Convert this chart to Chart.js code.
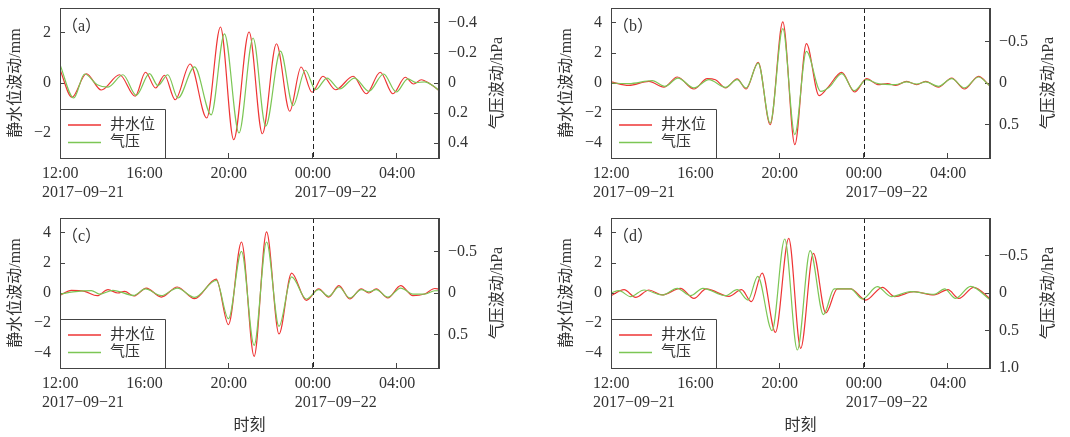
<!DOCTYPE html>
<html><head><meta charset="utf-8">
<script src="https://cdn.jsdelivr.net/npm/chart.js@4.4.1/dist/chart.umd.min.js"></script>
<style>
html,body{margin:0;padding:0;background:#fff;}
body{width:1070px;height:437px;position:relative;overflow:hidden;}
canvas{position:absolute;}
</style></head><body>
<canvas id="ca" width="512" height="215" style="left:0;top:0"></canvas>
<canvas id="cb" width="512" height="215" style="left:551px;top:0"></canvas>
<canvas id="cc" width="512" height="227" style="left:0;top:210px"></canvas>
<canvas id="cd" width="512" height="227" style="left:551px;top:210px"></canvas>
<script>
// ---- x axis (hours after 2017-09-21 12:00) ----
const xTickHours = [0, 4, 8, 12, 16];
const xTickLabels = [['12:00','2017−09−21'], ['16:00'], ['20:00'], ['00:00','2017−09−22'], ['04:00']];
const midnightHour = 12;
const seriesNames = ['井水位', '气压'];
const leftTitle = '静水位波动/mm';
const rightTitle = '气压波动/hPa';
const xTitle = '时刻';

// ---- panel (a) ----
const tA_well = [0,0.57,1.25,1.96,2.83,3.57,4.06,4.54,4.96,5.47,6.18,6.97,7.62,8.25,8.98,9.61,10.28,10.91,11.45,11.97,12.49,13.09,13.92,14.55,15.21,15.81,16.4,16.79,17.16,17.55,18];
const vA_well = [0.53,-0.57,0.37,-0.28,0.33,-0.53,0.43,-0.2,0.31,-0.67,0.76,-1.4,2.24,-2.27,2.04,-2.03,1.57,-1.13,0.64,-0.37,0.27,-0.27,0.27,-0.43,0.43,-0.43,0.23,-0.04,0.13,-0.02,-0.3];
const tA_air = [0,0.65,1.17,1.77,2.28,2.99,3.62,4.25,4.65,5.12,5.6,6.39,7.18,7.81,8.5,9.17,9.77,10.47,11.07,11.65,12.14,12.68,13.28,13.99,14.67,15.37,15.97,16.52,16.92,17.31,17.7,18];
const vA_air = [-0.122,0.100,-0.060,0.012,0.027,-0.055,0.082,-0.062,0.017,-0.055,0.100,-0.107,0.212,-0.328,0.333,-0.300,0.288,-0.212,0.150,-0.085,0.045,-0.033,0.040,-0.033,0.055,-0.060,0.060,-0.028,-0.003,-0.007,0.017,0.05];

// ---- panel (b) ----
const tB_well = [0,0.85,1.8,2.51,3.15,3.94,4.57,4.96,5.44,5.99,6.42,6.99,7.56,8.16,8.73,9.28,9.88,10.28,10.96,11.57,12.14,12.68,13.13,13.52,14.04,14.52,14.94,15.55,16.18,16.79,17.45,18];
const vB_well = [0.07,-0.16,0.11,-0.27,0.4,-0.4,0.29,0.22,-0.33,0.27,-0.4,1.38,-2.78,4.07,-4.11,2.62,-0.84,-0.33,0.71,-0.6,0.29,-0.11,-0.04,-0.16,0.11,-0.11,0.11,-0.27,0.33,-0.4,0.44,-0.2];
const tB_air = [0,0.85,1.96,2.56,3.18,3.94,4.65,5.44,5.99,6.42,6.99,7.56,8.16,8.73,9.28,9.96,10.36,10.96,11.55,12.14,12.68,13.52,14.04,14.52,14.94,15.55,16.18,16.79,17.45,18];
const vB_air = [0,0.007,-0.029,0.040,-0.059,0.059,-0.040,0.052,-0.040,0.059,-0.239,0.481,-0.652,0.619,-0.380,0.101,0.052,-0.112,0.092,-0.040,0.007,0.020,-0.013,0.013,-0.013,0.040,-0.052,0.059,-0.072,0.036];

// ---- panel (c) ----
const tC_well = [0,0.54,1.17,1.77,2.28,2.75,3.07,3.51,4.1,4.81,5.57,6.39,7.42,8.0,8.62,9.22,9.81,10.4,11.0,11.7,12.29,12.76,13.25,13.76,14.31,14.67,15.02,15.57,16.18,16.76,17.31,17.8,18];
const vC_well = [-0.16,0.18,0.11,-0.18,0.22,0,0.11,-0.2,0.33,-0.27,0.4,-0.38,0.93,-2.11,3.4,-4.22,4.07,-2.73,1.33,-0.49,0.27,-0.27,0.49,-0.4,0.27,0.0,0.27,-0.33,0.49,-0.18,-0.07,0.3,0.25];
const tC_air = [0,0.62,1.49,1.88,2.51,3.51,4.05,4.81,5.57,6.39,7.42,8.0,8.62,9.22,9.81,10.4,11.0,11.7,12.29,12.76,13.25,13.76,14.31,14.67,15.02,15.57,16.18,16.76,17.31,17.8,18];
const vC_air = [0.013,-0.013,-0.029,0.013,-0.032,0.029,-0.049,0.032,-0.059,0.052,-0.151,0.308,-0.500,0.628,-0.612,0.400,-0.193,0.072,-0.040,0.040,-0.072,0.059,-0.040,-0.013,-0.040,0.049,-0.059,0.013,0.013,-0.027,-0.027];

// ---- panel (d) ----
const tD_well = [0,0.62,1.17,1.8,2.43,3.3,3.94,4.52,5.6,6.2,6.67,7.18,7.81,8.44,9.01,9.61,10.2,10.75,11.38,12.1,12.89,13.47,14.39,15.34,16.0,16.52,17.23,18];
const vD_well = [-0.18,0.22,-0.29,0.2,-0.13,0.31,-0.36,0.27,-0.22,0.22,-0.58,1.33,-2.62,3.64,-3.69,2.64,-1.33,0.27,0.27,-0.47,0.38,-0.24,0.09,-0.13,0.22,-0.36,0.38,-0.38];
const tD_air = [0,0.38,0.93,1.57,2.43,3.15,3.78,4.36,5.44,5.99,6.51,6.97,7.65,8.25,8.85,9.46,10.09,10.6,11.38,11.94,12.65,13.31,14.23,15.34,15.84,16.36,17.08,18];
const vD_air = [0,-0.032,0.048,-0.04,0.026,-0.062,0.036,-0.062,0.036,-0.044,0.094,-0.222,0.502,-0.72,0.76,-0.564,0.288,-0.054,-0.054,0.08,-0.084,0.048,-0.018,0.018,-0.054,0.072,-0.088,0.09];

// ---- axis ticks ----
const wellTicksA = [-2, 0, 2];
const wellLabelsA = ['−2', '0', '2'];
const airTicksA = [-0.4, -0.2, 0, 0.2, 0.4];
const airLabelsA = ['−0.4', '−0.2', '0', '0.2', '0.4'];
const wellTicksBCD = [-4, -2, 0, 2, 4];
const wellLabelsBCD = ['−4', '−2', '0', '2', '4'];
const airTicksBC = [-0.5, 0, 0.5];
const airLabelsBC = ['−0.5', '0', '0.5'];
const airTicksD = [-0.5, 0, 0.5, 1.0];
const airLabelsD = ['−0.5', '0', '0.5', '1.0'];

const FONT = '"Liberation Serif", "Noto Sans CJK SC", serif';
const INK = '#333';
const FRAME = '#444';
const RED = '#ee3535';
const GREEN = '#7cc655';

const deco = {
  id: 'deco',
  afterDatasetsDraw(chart, args, o) {
    const {ctx, chartArea: a, scales} = chart;
    ctx.save();
    // midnight dashed line
    const xm = Math.round(scales.x.getPixelForValue(midnightHour)) + 0.5;
    ctx.strokeStyle = '#222'; ctx.lineWidth = 1; ctx.setLineDash([5, 3]);
    ctx.beginPath(); ctx.moveTo(xm, a.top); ctx.lineTo(xm, a.bottom); ctx.stroke();
    ctx.setLineDash([]);
    // legend
    const bw = 105, bh = 49, bx = a.left, by = a.bottom - bh;
    ctx.fillStyle = '#fff'; ctx.fillRect(bx, by, bw, bh);
    ctx.strokeStyle = FRAME; ctx.lineWidth = 1;
    ctx.beginPath(); ctx.moveTo(bx, by + 0.5); ctx.lineTo(bx + bw + 0.5, by + 0.5); ctx.lineTo(bx + bw + 0.5, a.bottom); ctx.stroke();
    ctx.font = '15px ' + FONT; ctx.textBaseline = 'middle'; ctx.textAlign = 'left';
    chart.data.datasets.forEach((ds, i) => {
      const y = by + 16 + i * 17.5;
      ctx.strokeStyle = ds.borderColor; ctx.lineWidth = 1.3;
      ctx.beginPath(); ctx.moveTo(bx + 8, y); ctx.lineTo(bx + 41, y); ctx.stroke();
      ctx.fillStyle = INK; ctx.fillText(ds.label, bx + 50, y);
    });
    // panel label
    ctx.font = '16px ' + FONT; ctx.fillStyle = INK; ctx.textBaseline = 'alphabetic';
    ctx.fillText(o.label, a.left + 2, a.top + 23);
    // frame
    ctx.strokeStyle = FRAME; ctx.lineWidth = 1;
    ctx.strokeRect(a.left + 0.5, a.top + 0.5, a.right - a.left - 1, a.bottom - a.top);
    ctx.restore();
  },
  afterDraw(chart) {
    // right-axis title, reading bottom-to-top like the left one
    const {ctx, chartArea: a} = chart;
    ctx.save();
    ctx.translate(a.right + 59, (a.top + a.bottom) / 2);
    ctx.rotate(-Math.PI / 2);
    ctx.font = '16px ' + FONT; ctx.fillStyle = INK;
    ctx.textAlign = 'center'; ctx.textBaseline = 'middle';
    ctx.fillText(rightTitle, 0, 0);
    ctx.restore();
  }
};

function pts(t, v) { return t.map((x, i) => ({x: x, y: v[i]})); }

function makeChart(id, p) {
  const H = document.getElementById(id).height;
  const gridOpts = {drawOnChartArea: false, tickLength: -5, color: FRAME, lineWidth: 1};
  const tickFont = {family: FONT, size: 16};
  return new Chart(document.getElementById(id), {
    type: 'line',
    data: {datasets: [
      {label: seriesNames[0], data: pts(p.tw, p.vw), borderColor: RED, borderWidth: 1.2, pointRadius: 0,
       cubicInterpolationMode: 'monotone', yAxisID: 'y', order: 1},
      {label: seriesNames[1], data: pts(p.ta, p.va), borderColor: GREEN, borderWidth: 1.2, pointRadius: 0,
       cubicInterpolationMode: 'monotone', yAxisID: 'y1', order: 0}
    ]},
    options: {
      responsive: false, animation: false, events: [],
      layout: {padding: {top: 8, left: 0, right: 0, bottom: 0}},
      plugins: {legend: {display: false}, tooltip: {enabled: false}, deco: {label: p.label}},
      scales: {
        x: {
          type: 'linear', min: 0, max: 18,
          afterBuildTicks: s => { s.ticks = xTickHours.map(v => ({value: v})); },
          ticks: {callback: (v, i) => xTickLabels[i], align: 'start', labelOffset: -18, padding: 11,
                  font: tickFont, color: INK, maxRotation: 0, autoSkip: false},
          grid: gridOpts, border: {color: FRAME},
          title: {display: p.xTitle, text: xTitle, color: INK, font: {family: FONT, size: 16}, padding: {top: 0, bottom: 2}},
          afterFit: s => { s.height = H - 158; s.paddingLeft = 0; s.paddingRight = 0; }
        },
        y: {
          position: 'left', min: p.yMin, max: p.yMax,
          afterBuildTicks: s => { s.ticks = p.yTicks.map(v => ({value: v})); },
          ticks: {callback: (v, i) => p.yLabels[i], padding: 14, font: tickFont, color: INK},
          grid: gridOpts, border: {color: FRAME},
          title: {display: true, text: leftTitle, color: INK, font: {family: FONT, size: 16}, padding: {top: 6, bottom: 4}},
          afterFit: s => { s.width = 60; s.paddingTop = 0; s.paddingBottom = 0; }
        },
        y1: {
          position: 'right', reverse: true, min: p.y1Min, max: p.y1Max,
          afterBuildTicks: s => { s.ticks = p.y1Ticks.map(v => ({value: v})); },
          ticks: {callback: (v, i) => p.y1Labels[i], padding: 14, font: tickFont, color: INK},
          grid: gridOpts, border: {color: FRAME},
          title: {display: false},
          afterFit: s => { s.width = 73; s.paddingTop = 0; s.paddingBottom = 0; }
        }
      }
    },
    plugins: [deco]
  });
}

makeChart('ca', {label: '（a）', tw: tA_well, vw: vA_well, ta: tA_air, va: vA_air, xTitle: false,
  yMin: -3, yMax: 3, yTicks: wellTicksA, yLabels: wellLabelsA,
  y1Min: -0.5, y1Max: 0.5, y1Ticks: airTicksA, y1Labels: airLabelsA});
makeChart('cb', {label: '（b）', tw: tB_well, vw: vB_well, ta: tB_air, va: vB_air, xTitle: false,
  yMin: -5, yMax: 5, yTicks: wellTicksBCD, yLabels: wellLabelsBCD,
  y1Min: -0.9, y1Max: 0.9, y1Ticks: airTicksBC, y1Labels: airLabelsBC});
makeChart('cc', {label: '（c）', tw: tC_well, vw: vC_well, ta: tC_air, va: vC_air, xTitle: true,
  yMin: -5, yMax: 5, yTicks: wellTicksBCD, yLabels: wellLabelsBCD,
  y1Min: -0.9, y1Max: 0.9, y1Ticks: airTicksBC, y1Labels: airLabelsBC});
makeChart('cd', {label: '（d）', tw: tD_well, vw: vD_well, ta: tD_air, va: vD_air, xTitle: true,
  yMin: -5, yMax: 5, yTicks: wellTicksBCD, yLabels: wellLabelsBCD,
  y1Min: -1, y1Max: 1, y1Ticks: airTicksD, y1Labels: airLabelsD});
</script>
</body></html>
